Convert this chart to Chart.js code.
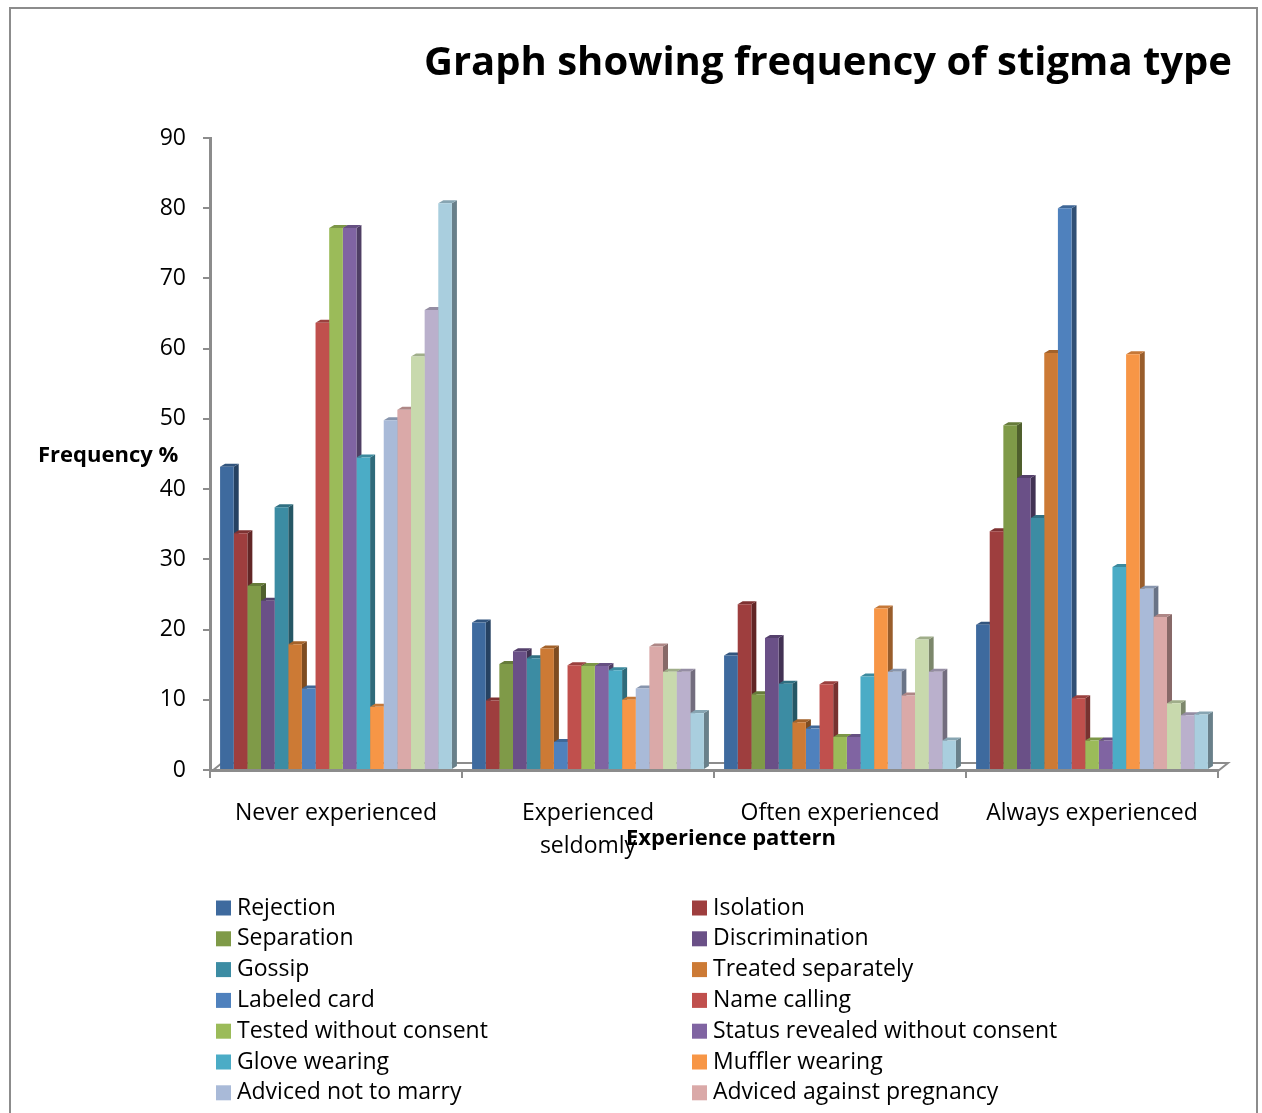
<!DOCTYPE html>
<html>
<head>
<meta charset="utf-8">
<title>Graph showing frequency of stigma type</title>
<script src="https://cdn.jsdelivr.net/npm/chart.js@4.4.1/dist/chart.umd.min.js"></script>
<style>
  html, body { margin: 0; padding: 0; background: #fff; overflow: hidden; }
  #wrap { position: relative; width: 1262px; height: 1113px; }
</style>
</head>
<body>
<div id="wrap"><canvas id="stigmaChart"></canvas></div>
<script>
// Categories and tick values
const categories = ['Never experienced', ['Experienced', 'seldomly'], 'Often experienced', 'Always experienced'];
const yTicks = [0, 10, 20, 30, 40, 50, 60, 70, 80, 90];

// Series values (Frequency %), one per category
const rejection        = [43.2, 21.0, 16.3, 20.7];
const isolation        = [33.7, 9.9, 23.6, 34.0];
const separation       = [26.2, 15.1, 10.8, 49.1];
const discrimination   = [24.1, 16.9, 18.8, 41.6];
const gossip           = [37.4, 15.9, 12.3, 35.9];
const treatedSeparately = [17.9, 17.3, 6.8, 59.4];
const labeledCard      = [11.6, 4.0, 5.9, 80.0];
const nameCalling      = [63.7, 14.9, 12.2, 10.2];
const testedNoConsent  = [77.2, 14.8, 4.7, 4.2];
const statusRevealed   = [77.2, 14.8, 4.7, 4.2];
const gloveWearing     = [44.5, 14.2, 13.3, 28.9];
const mufflerWearing   = [9.0, 10.0, 23.0, 59.2];
const notToMarry       = [49.8, 11.6, 14.0, 25.8];
const againstPregnancy = [51.3, 17.6, 10.6, 21.8];
const series15         = [58.9, 14.0, 18.6, 9.5];
const series16         = [65.5, 14.0, 14.0, 7.8];
const series17         = [80.7, 8.1, 4.2, 7.9];

const seriesNames = [
  'Rejection', 'Isolation', 'Separation', 'Discrimination', 'Gossip',
  'Treated separately', 'Labeled card', 'Name calling', 'Tested without consent',
  'Status revealed without consent', 'Glove wearing', 'Muffler wearing',
  'Adviced not to marry', 'Adviced against pregnancy', 'Series 15', 'Series 16', 'Series 17'
];
const seriesValues = [
  rejection, isolation, separation, discrimination, gossip, treatedSeparately,
  labeledCard, nameCalling, testedNoConsent, statusRevealed, gloveWearing,
  mufflerWearing, notToMarry, againstPregnancy, series15, series16, series17
];
const seriesColors = [
  '#3e6a9e', '#9e3e3e', '#7f9a48', '#6a5087', '#3c8ca3', '#cc7a35',
  '#4f81bd', '#c0504d', '#9bbb59', '#8064a2', '#4bacc6', '#f79646',
  '#a9bad8', '#daa9a8', '#c8d9ad', '#bab0cc', '#a9cede'
];
const legendCount = 14; // rows past this are cut off in the original

const FONT = "'Open Sans', 'Noto Sans', sans-serif";
const GRAY = '#8c8c8c';

function shade(hex, f) {
  const n = parseInt(hex.slice(1), 16);
  const r = Math.round(((n >> 16) & 255) * f);
  const g = Math.round(((n >> 8) & 255) * f);
  const b = Math.round((n & 255) * f);
  return `rgb(${r},${g},${b})`;
}

// 3D-ish depth faces, floor and frame drawn around the bars
const depthPlugin = {
  id: 'depth',
  beforeDraw(chart) {
    const { ctx } = chart;
    ctx.save();
    ctx.strokeStyle = GRAY;
    ctx.lineWidth = 2;
    ctx.strokeRect(10, 8, 1247, 1130);
    ctx.restore();
  },
  beforeDatasetsDraw(chart) {
    const { ctx, chartArea } = chart;
    const dx = 5, dy = 3;
    ctx.save();
    // floor back edge
    ctx.strokeStyle = GRAY;
    ctx.lineWidth = 2;
    ctx.beginPath();
    ctx.moveTo(chartArea.left + 2, chartArea.bottom + 1);
    ctx.lineTo(chartArea.left + 12, chartArea.bottom - 7);
    ctx.lineTo(chartArea.right + 10, chartArea.bottom - 7);
    ctx.lineTo(chartArea.right, chartArea.bottom + 1);
    ctx.stroke();
    chart.data.datasets.forEach((ds, i) => {
      const meta = chart.getDatasetMeta(i);
      meta.data.forEach(bar => {
        const { x, y, base, width } = bar.getProps(['x', 'y', 'base', 'width'], true);
        const l = x - width / 2, r = x + width / 2;
        ctx.fillStyle = shade(ds.backgroundColor, 0.62);
        ctx.beginPath();
        ctx.moveTo(r, y); ctx.lineTo(r + dx, y - dy); ctx.lineTo(r + dx, base - dy); ctx.lineTo(r, base);
        ctx.closePath(); ctx.fill();
        ctx.fillStyle = shade(ds.backgroundColor, 0.8);
        ctx.beginPath();
        ctx.moveTo(l, y); ctx.lineTo(l + dx, y - dy); ctx.lineTo(r + dx, y - dy); ctx.lineTo(r, y);
        ctx.closePath(); ctx.fill();
      });
    });
    ctx.restore();
  },
  afterDraw(chart) {
    const { ctx, chartArea } = chart;
    ctx.save();
    ctx.fillStyle = '#000';
    // title
    ctx.font = `bold 40px ${FONT}`;
    ctx.textAlign = 'right';
    ctx.textBaseline = 'middle';
    ctx.fillText('Graph showing frequency of stigma type', 1232, 64);
    // axis titles
    ctx.font = `bold 22px ${FONT}`;
    ctx.textAlign = 'left';
    ctx.fillText('Frequency %', 38, 456);
    ctx.textAlign = 'center';
    ctx.fillText('Experience pattern', (chartArea.left + chartArea.right) / 2 + 17, 839);
    // legend
    ctx.font = `23px ${FONT}`;
    ctx.textAlign = 'left';
    chart.data.datasets.slice(0, legendCount).forEach((ds, i) => {
      const col = i % 2, row = Math.floor(i / 2);
      const bx = col === 0 ? 216 : 692;
      const cy = 908 + row * 30.8;
      ctx.fillStyle = ds.backgroundColor;
      ctx.fillRect(bx, cy - 7.5, 15, 15);
      ctx.fillStyle = '#000';
      ctx.fillText(ds.label, bx + 21, cy);
    });
    ctx.restore();
  }
};

new Chart(document.getElementById('stigmaChart'), {
  type: 'bar',
  data: {
    labels: categories,
    datasets: seriesNames.map((name, i) => ({
      label: name,
      data: seriesValues[i],
      backgroundColor: seriesColors[i],
      borderWidth: 0,
      categoryPercentage: 0.92,
      barPercentage: 1.0
    }))
  },
  options: {
    responsive: true,
    maintainAspectRatio: false,
    devicePixelRatio: 1,
    animation: false,
    layout: { padding: { left: 0, right: 44, top: 138, bottom: 0 } },
    plugins: {
      legend: { display: false },
      title: { display: false },
      tooltip: { enabled: false }
    },
    scales: {
      x: {
        offset: true,
        grid: { offset: true, drawOnChartArea: false, tickLength: 8, color: GRAY, lineWidth: 2 },
        border: { color: GRAY, width: 3 },
        ticks: {
          color: '#000',
          font: { family: FONT, size: 23, lineHeight: 1.43 },
          padding: 19,
          maxRotation: 0,
          autoSkip: false
        },
        afterFit(scale) { scale.height = 343; }
      },
      y: {
        min: 0,
        max: 90,
        grid: { drawOnChartArea: false, tickLength: 7, color: GRAY, lineWidth: 2 },
        border: { color: GRAY, width: 3 },
        afterBuildTicks(scale) { scale.ticks = yTicks.map(v => ({ value: v })); },
        ticks: {
          color: '#000',
          font: { family: FONT, size: 23 },
          padding: 17
        },
        afterFit(scale) { scale.width = 210; }
      }
    }
  },
  plugins: [depthPlugin]
});
</script>
</body>
</html>
